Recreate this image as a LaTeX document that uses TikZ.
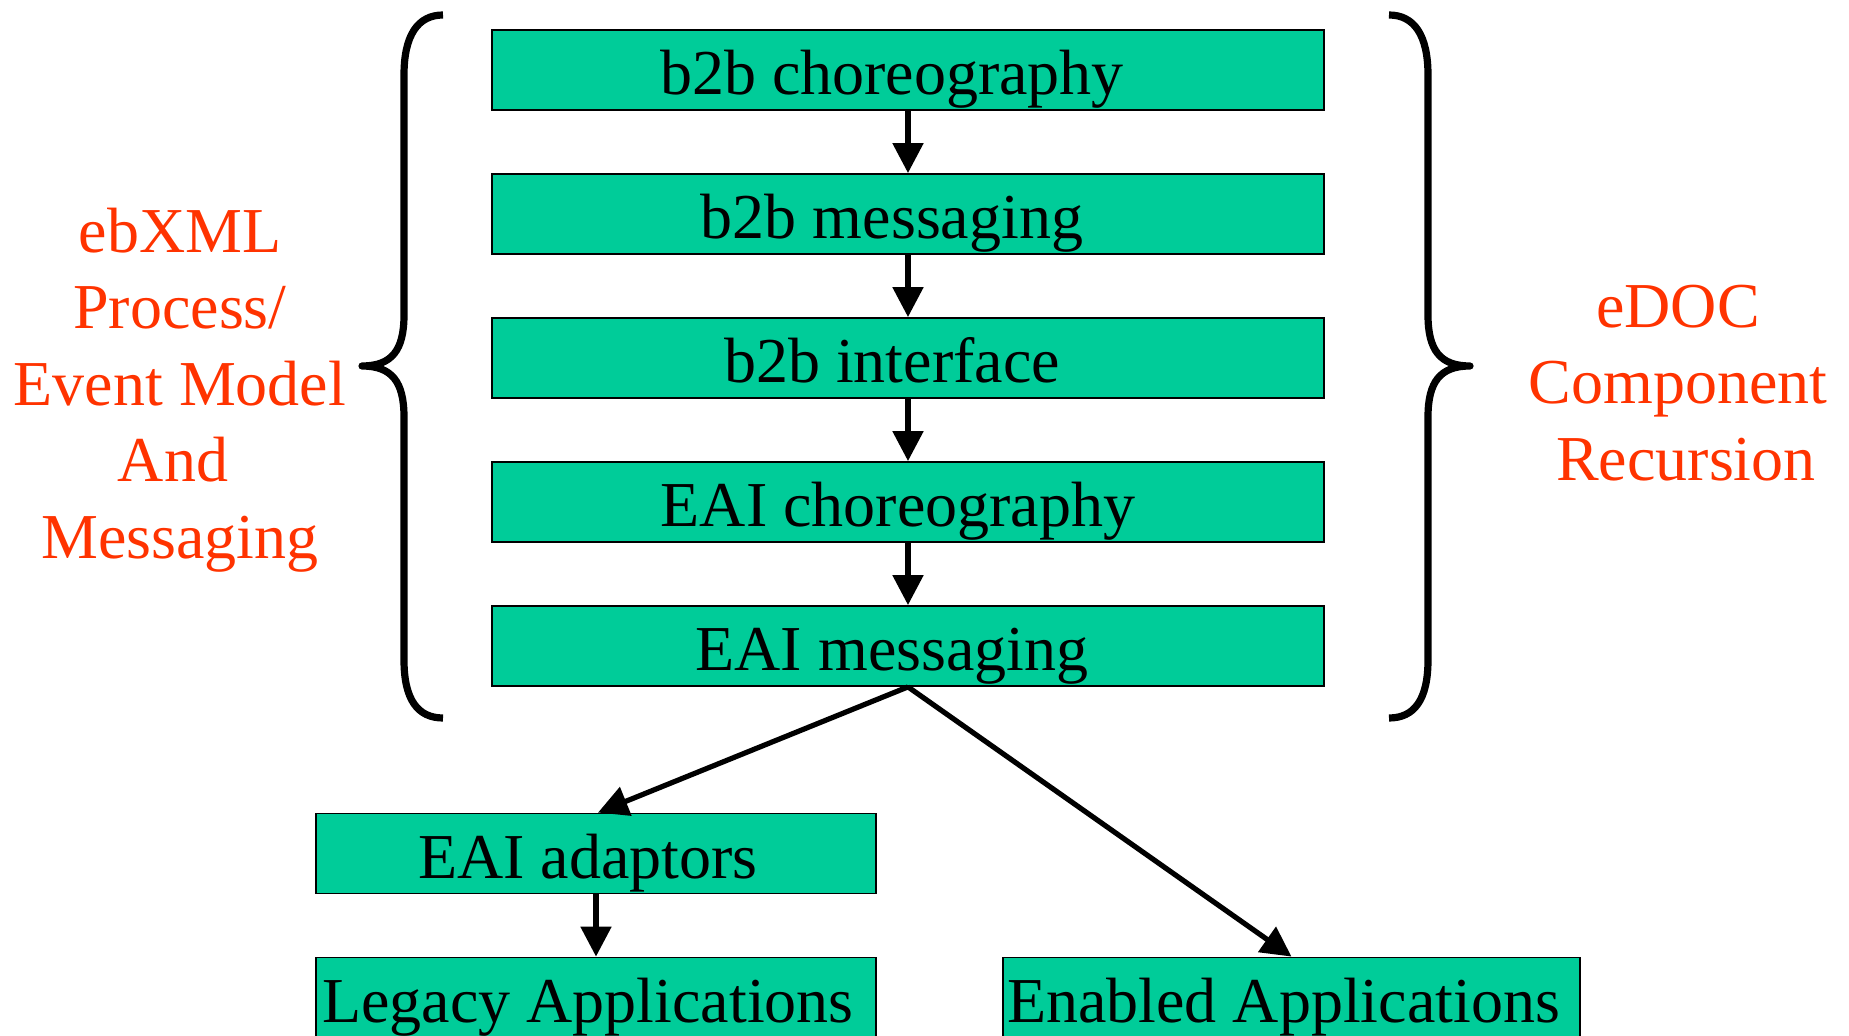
\documentclass[tikz,border=0pt]{standalone}
\usepackage{fontspec}
\setmainfont{Liberation Serif}
\usetikzlibrary{arrows.meta,calc}
\definecolor{boxgreen}{HTML}{00CC99}
\definecolor{labelred}{HTML}{FF3300}
\begin{document}
\begin{tikzpicture}[x=0.5pt,y=-0.5pt,
  box/.style={draw=black, line width=0.9pt, fill=boxgreen, minimum height=40pt,
    inner sep=0pt, font=\fontsize{32}{38}\selectfont, text height=25pt, text depth=0pt},
  mainbox/.style={box, minimum width=416pt},
  conn/.style={line width=2.6pt, -{Triangle[length=15pt,width=15pt]}},
  bracestroke/.style={line width=3.6pt, line join=round},
  redlabel/.style={text=labelred, font=\fontsize{32}{38.3}\selectfont, align=center, inner sep=0pt}
]
\useasboundingbox (0,0) rectangle (1849,1036);

% main column
\node[mainbox] (b1) at (908,70)  {b2b choreography\kern16pt};
\node[mainbox] (b2) at (908,214) {b2b messaging\kern16pt};
\node[mainbox] (b3) at (908,358) {b2b interface\kern16pt};
\node[mainbox] (b4) at (908,502) {EAI choreography\kern10pt};
\node[mainbox] (b5) at (908,646) {EAI messaging\kern16pt};

% lower boxes
\node[box, minimum width=280pt] (adapt) at (596,853.5) {EAI adaptors\kern8pt};
\node[box, minimum width=280pt, minimum height=40.5pt] (legacy) at (596,998) {Legacy Applications\kern8pt};
\node[box, minimum width=288.5pt, minimum height=40.5pt] (enab) at (1291.5,998) {Enabled Applications\kern8pt};

% connectors
\draw[conn] (b1.south) -- (b2.north);
\draw[conn] (b2.south) -- (b3.north);
\draw[conn] (b3.south) -- (b4.north);
\draw[conn] (b4.south) -- (b5.north);
\draw[conn] (b5.south) -- ($(adapt.north)+(2,0)$);
\draw[conn] (b5.south) -- (enab.north);
\draw[conn] (adapt.south) -- (legacy.north);

% braces
\draw[bracestroke] (443,15) .. controls (418,15) and (404,35) .. (404,75)
  -- (404,315) .. controls (404,350) and (392,366) .. (362,366)
  .. controls (392,366) and (404,382) .. (404,417)
  -- (404,660) .. controls (404,700) and (418,718) .. (443,718);
\draw[bracestroke] (1389,15) .. controls (1414,15) and (1428,35) .. (1428,75)
  -- (1428,315) .. controls (1428,350) and (1440,366) .. (1470,366)
  .. controls (1440,366) and (1428,382) .. (1428,417)
  -- (1428,660) .. controls (1428,700) and (1414,718) .. (1389,718);

% labels
\node[redlabel] (left) at (180,390) {ebXML\\Process/\\Event Model\\And\kern7pt\\Messaging};
\node[redlabel] (right) at (1678,383) {eDOC\\Component\\\kern8pt Recursion};
\end{tikzpicture}
\end{document}
